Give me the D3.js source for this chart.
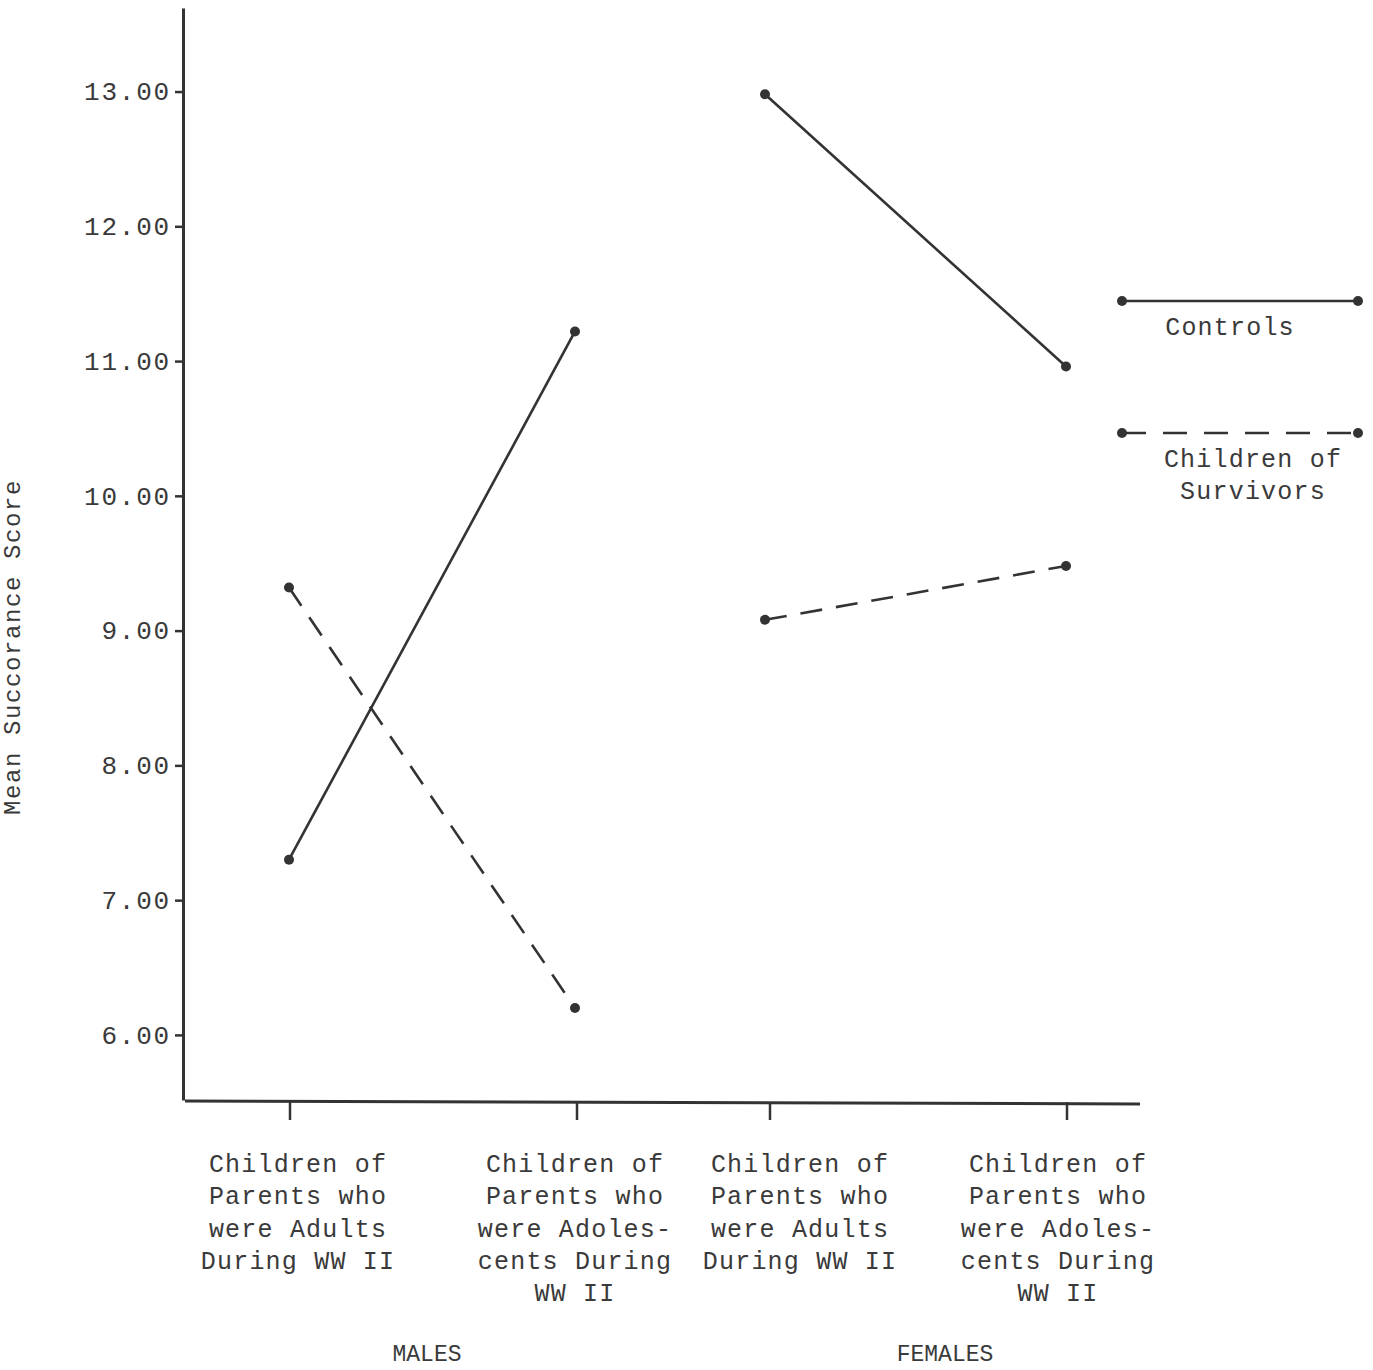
<!DOCTYPE html>
<html><head><meta charset="utf-8">
<script src="https://cdn.jsdelivr.net/npm/d3@7"></script>
<style>body{margin:0;background:#fff}svg{display:block}text{font-family:"Liberation Mono","DejaVu Sans Mono",monospace;fill:#3a3a3a}</style>
</head><body>
<script>
const categories = ["mA","mB","fA","fB"];
const categoryLabels = [
  ["Children of","Parents who","were Adults","During WW II"],
  ["Children of","Parents who","were Adoles-","cents During","WW II"],
  ["Children of","Parents who","were Adults","During WW II"],
  ["Children of","Parents who","were Adoles-","cents During","WW II"]
];
const groups = ["MALES","FEMALES"];
const controls = [7.30, 11.22, 12.98, 10.96];
const survivors = [9.32, 6.20, 9.08, 9.48];
const seriesNames = ["Controls", "Children of|Survivors"];
const yTicks = [6,7,8,9,10,11,12,13];

const W=1373,H=1370;
const svg=d3.select("body").append("svg").attr("width",W).attr("height",H);
const ink="#333";

const y=d3.scaleLinear().domain([5.517,13.62]).range([1100,8]);
const x=d3.scaleOrdinal().domain(categories).range([289,575,765,1066]);
const tickX=d3.scaleOrdinal().domain(categories).range([290,577,770,1067]);
const labelDx=[8,-2,30,-9];

// y axis
const yAxis=d3.axisLeft(y).tickValues(yTicks).tickFormat(d3.format(".2f")).tickSize(8).tickSizeOuter(0);
const gy=svg.append("g").attr("transform","translate(183,0)").call(yAxis);
gy.select(".domain").attr("stroke",ink).attr("stroke-width",3);
gy.selectAll(".tick line").attr("stroke",ink).attr("stroke-width",2.5);
gy.selectAll(".tick text").attr("x",-12).attr("font-size",26).attr("letter-spacing",1.8)
  .attr("font-family","Liberation Mono").attr("fill","#3a3a3a");

// x axis
svg.append("line").attr("x1",185).attr("x2",1140).attr("y1",1101).attr("y2",1104)
  .attr("stroke",ink).attr("stroke-width",3);
svg.selectAll(".xt").data(categories).join("line").attr("class","xt")
  .attr("x1",d=>tickX(d)).attr("x2",d=>tickX(d)).attr("y1",1102).attr("y2",1120)
  .attr("stroke",ink).attr("stroke-width",2.5);

// category labels
categories.forEach((c,i)=>{
  const t=svg.append("text").attr("text-anchor","middle").attr("font-size",25).attr("letter-spacing",1.2);
  categoryLabels[i].forEach((ln,j)=>{
    t.append("tspan").attr("x",tickX(c)+labelDx[i]).attr("y",1172+j*32.3).text(ln);
  });
});
// group labels
svg.append("text").attr("x",427).attr("y",1361).attr("text-anchor","middle").attr("font-size",23).text(groups[0]);
svg.append("text").attr("x",945).attr("y",1361).attr("text-anchor","middle").attr("font-size",23).text(groups[1]);

// y title
svg.append("text").attr("transform","translate(20,647) rotate(-90)").attr("text-anchor","middle")
  .attr("font-size",24).attr("letter-spacing",1.6).text("Mean Succorance Score");

// series
const series=[{vals:controls,dash:null},{vals:survivors,dash:"22,14"}];
const segs=[[0,1],[2,3]];
series.forEach(s=>{
  segs.forEach(([a,b])=>{
    svg.append("line").attr("x1",x(categories[a])).attr("y1",y(s.vals[a]))
      .attr("x2",x(categories[b])).attr("y2",y(s.vals[b]))
      .attr("stroke",ink).attr("stroke-width",2.6).attr("stroke-dasharray",s.dash);
  });
  svg.selectAll(null).data(s.vals).join("circle")
    .attr("cx",(d,i)=>x(categories[i])).attr("cy",d=>y(d)).attr("r",5).attr("fill",ink);
});

// legend
const legY=[301,433];
seriesNames.forEach((n,i)=>{
  svg.append("line").attr("x1",1122).attr("x2",1358).attr("y1",legY[i]).attr("y2",legY[i])
    .attr("stroke",ink).attr("stroke-width",2.6).attr("stroke-dasharray",series[i].dash? "24,17":null);
  [1122,1358].forEach(cx=>svg.append("circle").attr("cx",cx).attr("cy",legY[i]).attr("r",5).attr("fill",ink));
  const lines=n.split("|");
  const t=svg.append("text").attr("text-anchor","middle").attr("font-size",25).attr("letter-spacing",1.2);
  lines.forEach((ln,j)=>t.append("tspan").attr("x",i===0?1230:1253).attr("y",legY[i]+34+j*32).text(ln));
});
</script>
</body></html>
